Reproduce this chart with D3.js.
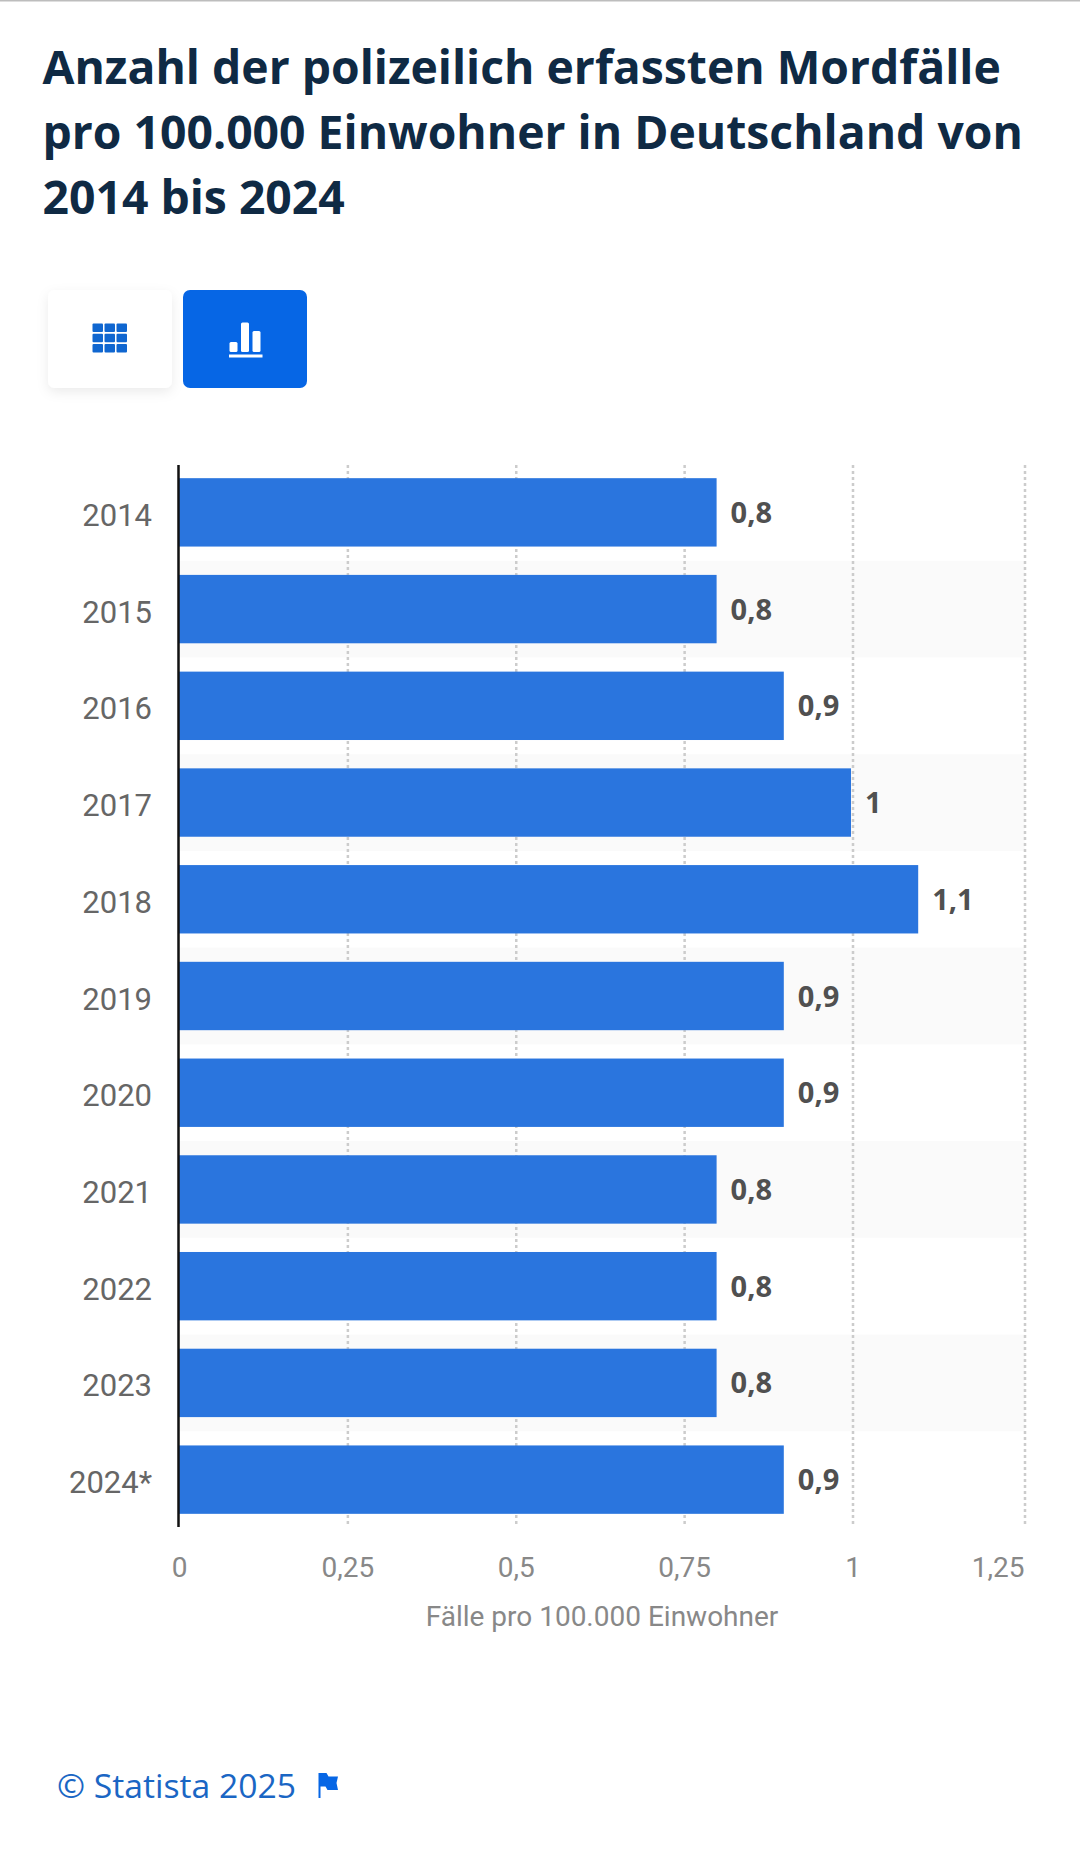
<!DOCTYPE html>
<html><head><meta charset="utf-8">
<script src="https://cdn.jsdelivr.net/npm/d3@7/dist/d3.min.js"></script>
<style>html,body{margin:0;padding:0;background:#fff}svg{display:block}</style>
</head><body><svg id="c" width="1080" height="1870"></svg>
<script>
const titleLines=["Anzahl der polizeilich erfassten Mordfälle","pro 100.000 Einwohner in Deutschland von","2014 bis 2024"];
const years=["2014","2015","2016","2017","2018","2019","2020","2021","2022","2023","2024*"];
const values=[0.8,0.8,0.9,1,1.1,0.9,0.9,0.8,0.8,0.8,0.9];
const xTicks=[0,0.25,0.5,0.75,1,1.25];
const xTitle="Fälle pro 100.000 Einwohner";
const source="© Statista 2025";
const fmt=v=>String(v).replace(".",",");

const svg=d3.select("#c");
const defs=svg.append("defs");
const f=defs.append("filter").attr("id","sh").attr("x","-20%").attr("y","-20%").attr("width","140%").attr("height","150%");
f.append("feDropShadow").attr("dx",0).attr("dy",4).attr("stdDeviation",6).attr("flood-color","#000").attr("flood-opacity",0.08);

svg.append("rect").attr("width",1080).attr("height",1.5).attr("fill","#bdbdbd");
svg.append("g").selectAll("text").data(titleLines).join("text")
 .attr("x",42.5).attr("y",(d,i)=>83.5+i*65)
 .attr("font-family","'Open Sans'").attr("font-weight",700).attr("font-size",46.3).attr("fill","#0f2a44").text(d=>d);

// buttons
svg.append("rect").attr("x",48).attr("y",290).attr("width",124).attr("height",98).attr("rx",7).attr("fill","#fff").attr("filter","url(#sh)");
svg.append("rect").attr("x",183).attr("y",290).attr("width",124).attr("height",98).attr("rx",7).attr("fill","#0666e5");
const gi=svg.append("g").attr("fill","#0f66d0");
d3.range(3).forEach(r=>d3.range(3).forEach(c=>gi.append("rect").attr("x",92.5+c*12).attr("y",323.5+r*10.2).attr("width",10.5).attr("height",8.6).attr("rx",1)));
const bi=svg.append("g").attr("fill","#fff");
[[229.5,342,8,10],[241,322.5,8,29.5],[252.5,331,8,21]].forEach(a=>bi.append("rect").attr("x",a[0]).attr("y",a[1]).attr("width",a[2]).attr("height",a[3]).attr("rx",1.5));
bi.append("rect").attr("x",229).attr("y",354.5).attr("width",33.5).attr("height",3);

const x=d3.scaleLinear().domain([0,1,1.25]).range([179,852.5,1024.5]);
const xBar=d3.scaleLinear().domain([0,1]).range([179,851]);
const y=d3.scaleBand().domain(years).range([464,1528]).paddingInner(0.293).paddingOuter(0.1465);
const rowH=y.step();
const rowTop=d=>y(d)-(rowH-y.bandwidth())/2;

svg.append("g").selectAll("rect").data(years.filter((d,i)=>i%2==1)).join("rect")
 .attr("x",x(0)).attr("y",rowTop).attr("width",x(1.25)-x(0)).attr("height",rowH).attr("fill","#fafafa");

svg.append("g").selectAll("line").data(xTicks.slice(1)).join("line")
 .attr("x1",d=>x(d)+0.5).attr("x2",d=>x(d)+0.5).attr("y1",465).attr("y2",1526)
 .attr("stroke","#cccccc").attr("stroke-width",2.5).attr("stroke-dasharray","3 3");

svg.append("g").selectAll("rect").data(years).join("rect")
 .attr("x",xBar(0)).attr("y",d=>y(d)).attr("width",(d,i)=>xBar(values[i])-xBar(0)).attr("height",y.bandwidth()).attr("fill","#2a75de");

svg.append("line").attr("x1",x(0)-0.5).attr("x2",x(0)-0.5).attr("y1",465).attr("y2",1527).attr("stroke","#111").attr("stroke-width",2.5);

svg.append("g").selectAll("text").data(years).join("text")
 .attr("x",152).attr("y",d=>y(d)+y.bandwidth()/2+13.5).attr("text-anchor","end")
 .attr("font-family","Roboto").attr("font-size",31).attr("fill","#666").text(d=>d);

svg.append("g").selectAll("text").data(values).join("text")
 .attr("x",d=>xBar(d)+14).attr("y",(d,i)=>y(years[i])+y.bandwidth()/2+10.5)
 .attr("font-family","'Open Sans'").attr("font-weight",700).attr("font-size",29).attr("fill","#505050").text(fmt);

svg.append("g").selectAll("text").data(xTicks).join("text")
 .attr("x",d=>d===1.25?x(d):x(d)+0.5).attr("y",1577)
 .attr("text-anchor",d=>d===1.25?"end":"middle")
 .attr("font-family","Roboto").attr("font-size",28).attr("fill","#888").text(fmt);
svg.append("text").attr("x",602).attr("y",1626).attr("text-anchor","middle")
 .attr("font-family","Roboto").attr("font-size",28).attr("fill","#888").text(xTitle);

svg.append("text").attr("x",57).attr("y",1798).attr("font-family","'Open Sans'").attr("font-size",33.7).attr("fill","#1a66c4").text(source);
svg.append("path").attr("d","M318.5 1798V1773h8l2 3.5h9.5l-1.5 6.5 1.5 7h-10.5l-2-3.5h-5v11.5z").attr("fill","#0666e5");
</script></body></html>
